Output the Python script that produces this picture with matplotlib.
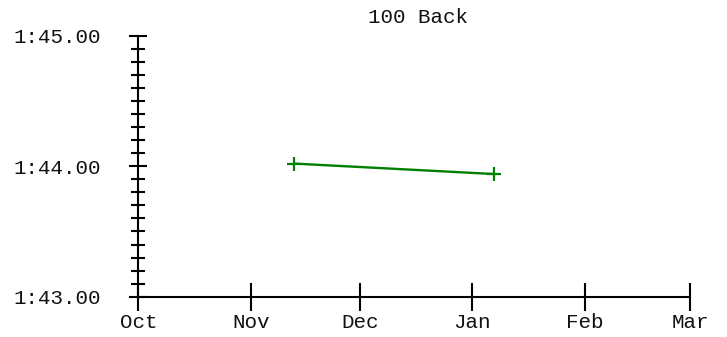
import matplotlib
matplotlib.use("Agg")
import matplotlib.pyplot as plt
from matplotlib.ticker import FuncFormatter, MultipleLocator
import datetime as dt

# Data
title = "100 Back"
swim_dates = ["2023-11-13", "2024-01-07"]
swim_times = [104.02, 103.94]  # seconds (1:44.02, 1:43.94)
month_ticks = ["2023-10-01", "2023-11-01", "2023-12-01", "2024-01-01", "2024-02-01", "2024-03-01"]
month_labels = ["Oct", "Nov", "Dec", "Jan", "Feb", "Mar"]
y_min, y_max = 103.0, 105.0

plt.rcParams['font.family'] = ['Liberation Mono', 'DejaVu Sans Mono']

DPI = 100
fig = plt.figure(figsize=(7.27, 3.37), dpi=DPI)
W, H = 727, 337
left, right, top, bottom = 138.3, 690.0, 35.7, 296.7
ax = fig.add_axes([left / W, 1 - bottom / H, (right - left) / W, (bottom - top) / H])

xd = [dt.datetime.fromisoformat(d) for d in swim_dates]
ax.plot(xd, swim_times, color="#008000", linewidth=1.7, marker="+",
        markersize=10, markeredgewidth=1.6, clip_on=False, zorder=3)

tick_dates = [dt.datetime.fromisoformat(d) for d in month_ticks]
ax.set_xlim(tick_dates[0], tick_dates[-1])
ax.set_xticks(tick_dates)
ax.set_xticklabels(month_labels)
ax.set_ylim(y_min, y_max)
ax.yaxis.set_major_locator(MultipleLocator(1.0))
ax.yaxis.set_minor_locator(MultipleLocator(0.1))


def fmt(v, pos):
    m = int(v // 60)
    s = v - 60 * m
    return f"{m}:{s:05.2f}"


ax.yaxis.set_major_formatter(FuncFormatter(fmt))

for side in ("top", "right"):
    ax.spines[side].set_visible(False)
for side in ("left", "bottom"):
    ax.spines[side].set_linewidth(1.5)
    ax.spines[side].set_color("black")

fs = 15
ax.tick_params(axis="y", which="major", direction="inout", length=13, width=1.5,
               pad=20.5, labelsize=fs, labelcolor="#111111")
ax.tick_params(axis="y", which="minor", direction="inout", length=9.6, width=1.5)
ax.tick_params(axis="x", which="major", direction="inout", length=20, width=1.5,
               pad=1.5, labelsize=fs, labelcolor="#111111")

ax.set_title(title, fontsize=fs, pad=9, color="#111111", x=0.507)

fig.savefig("out.png", dpi=DPI)
